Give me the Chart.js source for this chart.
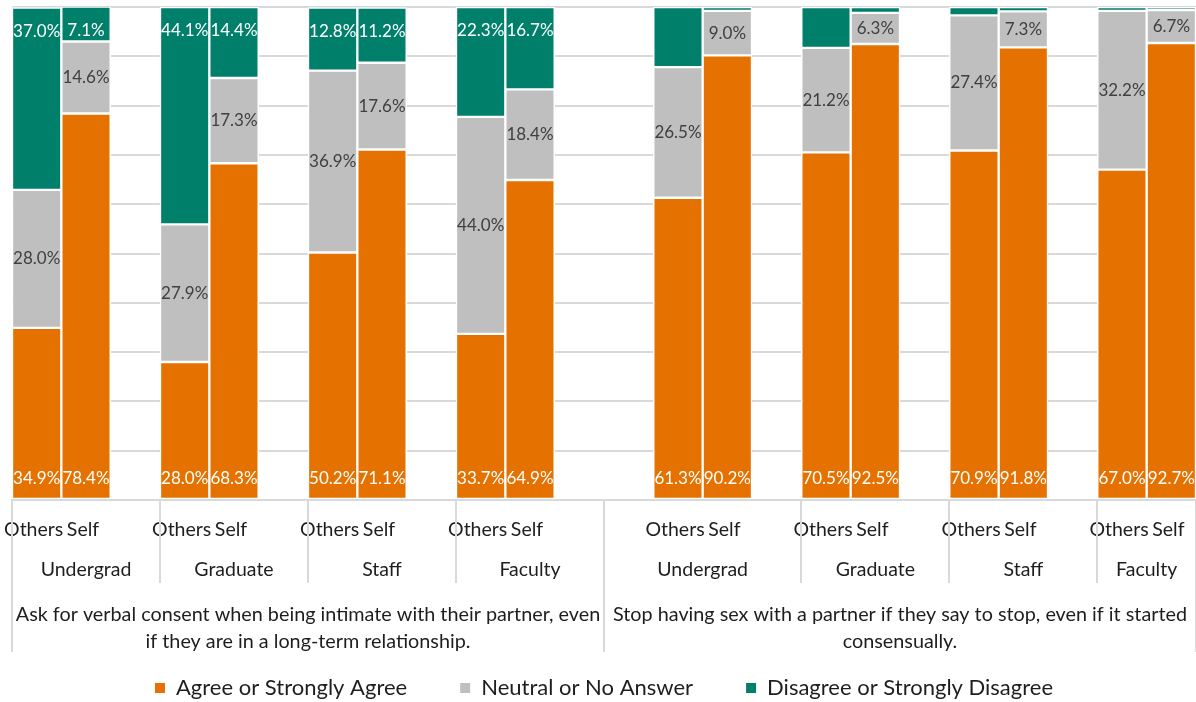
<!DOCTYPE html>
<html><head><meta charset="utf-8">
<script src="https://cdn.jsdelivr.net/npm/chart.js@4.4.1/dist/chart.umd.min.js"></script>
<style>html,body{margin:0;padding:0;background:#fff;}#wrap{width:1196px;height:702px;}</style>
</head><body><div id="wrap"><canvas id="c" width="1196" height="702"></canvas></div>
<script>
// ---- data ----
const respondents = ['Others','Self','', 'Others','Self','', 'Others','Self','', 'Others','Self','',
                     '', 'Others','Self','', 'Others','Self','', 'Others','Self','', 'Others','Self'];
const groups = ['Undergrad','Undergrad','Undergrad','Graduate','Graduate','Graduate','Staff','Staff','Staff','Faculty','Faculty','Faculty',
                'Undergrad','Undergrad','Undergrad','Undergrad','Graduate','Graduate','Graduate','Staff','Staff','Staff','Faculty','Faculty'];
const questionOf = [0,0,0,0,0,0,0,0,0,0,0,0, 1,1,1,1,1,1,1,1,1,1,1,1];
const questions = [
  ['Ask for verbal consent when being intimate with their partner, even', 'if they are in a long-term relationship.'],
  ['Stop having sex with a partner if they say to stop, even if it started', 'consensually.']
];
const agree    = [34.9,78.4,null, 28.0,68.3,null, 50.2,71.1,null, 33.7,64.9,null,
                  null,61.3,90.2,null, 70.5,92.5,null, 70.9,91.8,null, 67.0,92.7];
const neutral  = [28.0,14.6,null, 27.9,17.3,null, 36.9,17.6,null, 44.0,18.4,null,
                  null,26.5,9.0,null, 21.2,6.3,null, 27.4,7.3,null, 32.2,6.7];
const disagree = [37.0,7.1,null, 44.1,14.4,null, 12.8,11.2,null, 22.3,16.7,null,
                  null,12.2,0.8,null, 8.3,1.2,null, 1.7,0.9,null, 0.8,0.6];
const seriesNames = ['Agree or Strongly Agree','Neutral or No Answer','Disagree or Strongly Disagree'];
const unlabeledQuestionForDisagree = 1;

const ORANGE = '#E57200', GRAY = '#BFBFBF', TEAL = '#007F6B';
const FONT = 'Lato';

const dataLabels = {
  id: 'dataLabels',
  afterDatasetsDraw(chart) {
    const ctx = chart.ctx;
    ctx.save();
    ctx.font = '17px ' + FONT;
    ctx.textAlign = 'center';
    ctx.textBaseline = 'middle';
    chart.data.datasets.forEach((ds, i) => {
      const meta = chart.getDatasetMeta(i);
      meta.data.forEach((el, j) => {
        const v = ds.data[j];
        if (v == null) return;
        if (ds.labelSkipQuestion != null && questionOf[j] === ds.labelSkipQuestion) return;
        const top = Math.min(el.y, el.base), bot = Math.max(el.y, el.base);
        let y;
        if (ds.labelPos === 'start') y = bot - 20;
        else if (ds.labelPos === 'end') y = top + 24;
        else y = (top + bot) / 2;
        ctx.fillStyle = ds.labelColor;
        ctx.fillText(v.toFixed(1) + '%', el.x, y);
      });
    });
    ctx.restore();
  }
};

function runs(keyFn) {
  const out = [];
  for (let i = 0; i < respondents.length; i++) {
    const k = keyFn(i);
    if (out.length && out[out.length - 1].key === k) out[out.length - 1].end = i;
    else out.push({key: k, start: i, end: i});
  }
  return out;
}

const axisLabels = {
  id: 'axisLabels',
  afterDraw(chart) {
    const ctx = chart.ctx, xs = chart.scales.x, y0 = chart.chartArea.bottom;
    const step = xs.getPixelForValue(1) - xs.getPixelForValue(0);
    const edge = i => xs.getPixelForValue(i) - step / 2;
    ctx.save();
    ctx.fillStyle = '#1E1E1E';
    ctx.textAlign = 'center';
    ctx.textBaseline = 'middle';
    ctx.font = '19.5px ' + FONT;
    respondents.forEach((r, i) => { if (r) ctx.fillText(r, xs.getPixelForValue(i) - 3, y0 + 30); });
    const gRuns = runs(i => questionOf[i] + '|' + groups[i]);
    gRuns.forEach(g => {
      const cx = (edge(g.start) + edge(g.end + 1)) / 2;
      ctx.fillText(groups[g.start], cx, y0 + 70);
    });
    const qRuns = runs(i => questionOf[i]);
    ctx.font = '19.8px ' + FONT;
    qRuns.forEach(q => {
      const cx = (edge(q.start) + edge(q.end + 1)) / 2;
      questions[q.key].forEach((line, k) => ctx.fillText(line, cx, y0 + 115 + k * 27));
    });
    ctx.strokeStyle = '#D9D9D9';
    ctx.lineWidth = 2;
    const qEdges = new Set();
    qRuns.forEach(q => { qEdges.add(q.start); qEdges.add(q.end + 1); });
    const gEdges = new Set();
    gRuns.forEach(g => { gEdges.add(g.start); gEdges.add(g.end + 1); });
    gEdges.forEach(e => {
      const x = Math.round(edge(e));
      ctx.beginPath();
      ctx.moveTo(x, y0);
      ctx.lineTo(x, y0 + (qEdges.has(e) ? 152 : 83));
      ctx.stroke();
    });
    ctx.restore();
  }
};

new Chart(document.getElementById('c'), {
  type: 'bar',
  data: {
    labels: respondents,
    datasets: [
      {label: seriesNames[0], data: agree, backgroundColor: ORANGE, labelColor: '#FFFFFF', labelPos: 'start'},
      {label: seriesNames[1], data: neutral, backgroundColor: GRAY, labelColor: '#404040', labelPos: 'center'},
      {label: seriesNames[2], data: disagree, backgroundColor: TEAL, labelColor: '#FFFFFF', labelPos: 'end', labelSkipQuestion: unlabeledQuestionForDisagree}
    ]
  },
  options: {
    responsive: false,
    animation: false,
    devicePixelRatio: 1,
    layout: {padding: {left: 12, right: 0, top: 7, bottom: -7}},
    datasets: {bar: {barPercentage: 1, categoryPercentage: 1, borderWidth: 1.5, borderColor: '#FFFFFF', borderSkipped: false}},
    scales: {
      x: {stacked: true, ticks: {display: false}, grid: {display: false, drawTicks: false},
          border: {display: true, color: '#D9D9D9', width: 2},
          afterFit(s) { s.height = 124; }},
      y: {stacked: true, min: 0, max: 100, ticks: {display: false, stepSize: 10},
          grid: {color: '#D9D9D9', lineWidth: 2, drawTicks: false}, border: {display: false}}
    },
    plugins: {
      legend: {position: 'bottom', labels: {
        boxWidth: 10, boxHeight: 10, padding: 53, color: '#1E1E1E', font: {family: FONT, size: 22},
        generateLabels(chart) {
          return Chart.defaults.plugins.legend.labels.generateLabels(chart).map(l => Object.assign(l, {lineWidth: 0}));
        }
      }},
      tooltip: {enabled: false}
    }
  },
  plugins: [dataLabels, axisLabels]
});
</script>
</body></html>
